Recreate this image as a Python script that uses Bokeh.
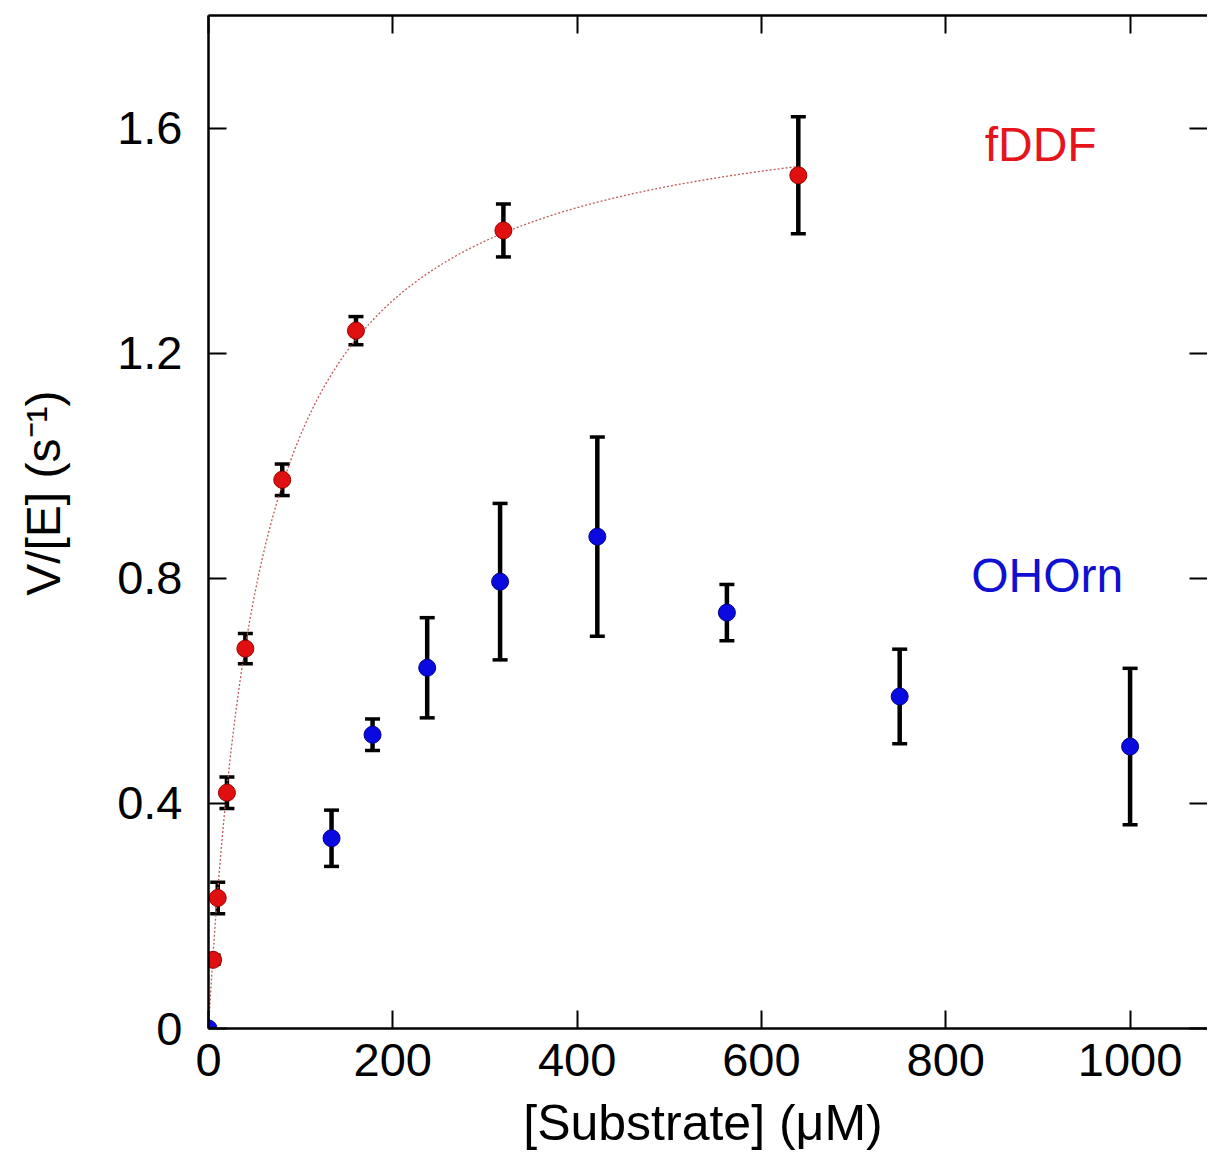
import numpy as np
from bokeh.plotting import figure
from bokeh.models import Range1d, LinearAxis, FixedTicker, Whisker, ColumnDataSource, TeeHead
from bokeh.core.properties import value
from bokeh.embed import file_html
from bokeh.resources import INLINE

# ---- data ----
fddf_x = [5, 10, 20, 40, 80, 160, 320, 640]
fddf_y = [0.122, 0.232, 0.419, 0.675, 0.975, 1.240, 1.418, 1.516]
fddf_err = [0.008, 0.028, 0.028, 0.027, 0.028, 0.025, 0.047, 0.104]

ohorn_x = [0, 133.5, 178, 237.3, 316.4, 421.9, 562.5, 750, 1000]
ohorn_y = [0.0, 0.338, 0.522, 0.641, 0.794, 0.874, 0.739, 0.590, 0.501]
ohorn_err = [0.0, 0.050, 0.028, 0.089, 0.139, 0.177, 0.050, 0.084, 0.139]

series_names = ["fDDF", "OHOrn"]
x_ticks = [0, 200, 400, 600, 800, 1000]
y_ticks = [0, 0.4, 0.8, 1.2, 1.6]
y_tick_labels = ["0", "0.4", "0.8", "1.2", "1.6"]
x_title = "[Substrate] (\u03bcM)"
y_title = "V/[E] (s\u207b\u00b9)"

FONT = "Liberation Sans"
RED = "#e01010"
BLUE = "#0a0ae0"

# Michaelis-Menten least-squares fit of the fDDF data (grid over Km, Vmax solved linearly)
fx = np.array(fddf_x, float)
fy = np.array(fddf_y, float)
best = None
for km in np.linspace(1, 400, 4000):
    f = fx / (km + fx)
    vmax = (f * fy).sum() / (f * f).sum()
    sse = ((vmax * f - fy) ** 2).sum()
    if best is None or sse < best[0]:
        best = (sse, km, vmax)
_, KM, VMAX = best
curve_x = np.linspace(0, fx.max(), 400)
curve_y = VMAX * curve_x / (KM + curve_x)

p = figure(width=1207, height=1155, output_backend="svg", toolbar_location=None,
           x_range=Range1d(0, 1084), y_range=Range1d(0, 1.8),
           min_border_left=208, min_border_right=0, min_border_top=15, min_border_bottom=127)
p.xgrid.visible = False
p.ygrid.visible = False
p.outline_line_color = None
p.background_fill_color = "white"
p.border_fill_color = "white"

def style_axis(ax, ticks, show_labels):
    ax.ticker = FixedTicker(ticks=ticks)
    ax.axis_line_width = 2.5
    ax.axis_line_color = "black"
    ax.major_tick_line_width = 2
    ax.major_tick_line_color = "black"
    ax.major_tick_in = 18
    ax.major_tick_out = 0
    ax.minor_tick_line_color = None
    if show_labels:
        ax.major_label_text_font = FONT
        ax.major_label_text_font_size = "47px"
        ax.major_label_text_color = "black"
        ax.axis_label_text_font = FONT
        ax.axis_label_text_font_size = "48px"
        ax.axis_label_text_font_style = "normal"
        ax.axis_label_text_color = "black"
    else:
        ax.major_label_text_font_size = "1px"
        ax.major_label_text_color = None
        ax.major_label_text_alpha = 0
        ax.major_label_standoff = 0
        ax.axis_label = None

xa = p.xaxis[0]
style_axis(xa, x_ticks, True)
xa.axis_label = x_title + "\u2009"
xa.axis_label_text_font_size = "50px"
xa.major_label_standoff = 15
xa.axis_label_standoff = 16

ya = p.yaxis[0]
style_axis(ya, y_ticks, True)
ya.axis_label = "\u2003\u2009" + y_title
ya.major_label_overrides = {t: l for t, l in zip(y_ticks, y_tick_labels)}
ya.major_label_standoff = 26
ya.axis_label_standoff = 44

top = LinearAxis()
style_axis(top, x_ticks, False)
p.add_layout(top, "above")
right = LinearAxis()
style_axis(right, y_ticks, False)
right.axis_line_color = None
p.add_layout(right, "right")

# fit curve
p.line(curve_x, curve_y, line_color="#c05a5a", line_width=1.3, line_dash="2 2")

# error bars
def add_err(xs, ys, es):
    keep = [i for i, e in enumerate(es) if e > 0]
    src = ColumnDataSource(dict(x=[xs[i] for i in keep],
                                lo=[ys[i] - es[i] for i in keep],
                                hi=[ys[i] + es[i] for i in keep]))
    w = Whisker(source=src, base="x", lower="lo", upper="hi", dimension="height",
                line_color="black", line_width=4.5,
                upper_head=TeeHead(size=15, line_width=3.5, line_color="black"),
                lower_head=TeeHead(size=15, line_width=3.5, line_color="black"))
    p.add_layout(w)

add_err(fddf_x, fddf_y, fddf_err)
add_err(ohorn_x, ohorn_y, ohorn_err)

p.scatter(fddf_x, fddf_y, size=17, fill_color=RED, line_color="#9a0000", line_width=1)
p.scatter(ohorn_x, ohorn_y, size=17, fill_color=BLUE, line_color="#00008a", line_width=1)

p.text(x=[903], y=[1.57], text=[series_names[0]], text_color="#e8141c",
       text_font=value(FONT), text_font_size="48px", text_align="center", text_baseline="middle")
p.text(x=[910], y=[0.805], text=[series_names[1]], text_color="#1010d0",
       text_font=value(FONT), text_font_size="48px", text_align="center", text_baseline="middle")

open("out.html", "w").write(file_html(p, INLINE))
